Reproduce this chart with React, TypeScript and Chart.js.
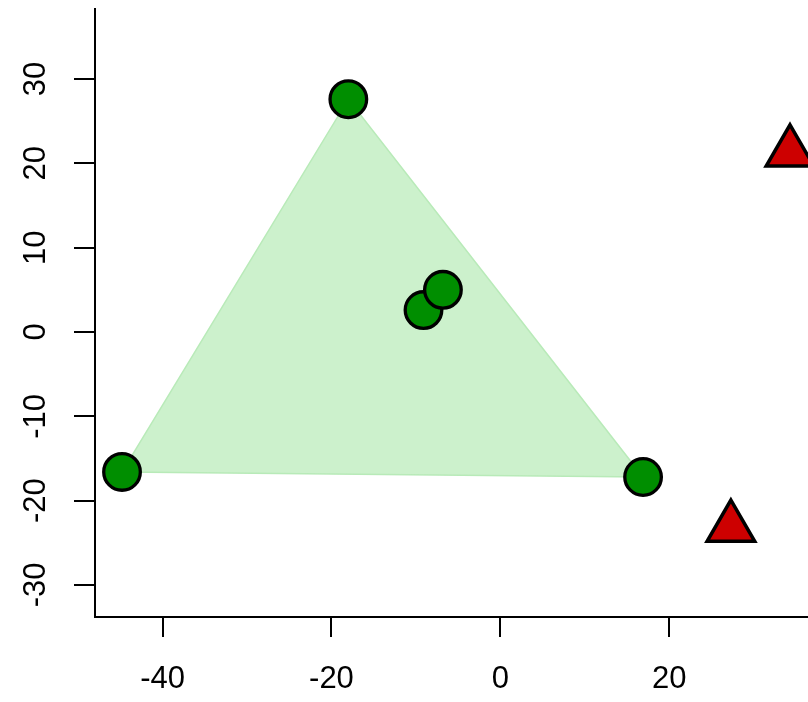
import { useEffect, useRef } from 'react';
import { Chart, registerables } from 'chart.js';

Chart.register(...registerables);

// Group A (green circles)
const greenX = [-44.8, -18.0, -9.1, -6.8, 16.9];
const greenY = [-16.6, 27.6, 2.6, 5.0, -17.2];
// Group B (red triangles)
const redX = [27.3, 34.3];
const redY = [-23.2, 21.3];
// Convex hull of group A (indices into greenX/greenY, closed)
const hullIdx = [0, 1, 4, 0];

const xTicks = [-40, -20, 0, 20];
const yTicks = [-30, -20, -10, 0, 10, 20, 30];
const xMin = -48.0;
const xMax = 36.43;
const yMin = -33.8;
const yMax = 38.3;

const FONT = "'Liberation Sans', Arial, Helvetica, sans-serif";

export default function App() {
  const ref = useRef<HTMLCanvasElement>(null);
  useEffect(() => {
    const canvas = ref.current!;
    const chart = new Chart(canvas, {
      type: 'scatter',
      data: {
        datasets: [
          {
            label: 'B',
            data: redX.map((x, i) => ({ x, y: redY[i] })),
            pointStyle: 'triangle',
            pointRadius: 27.5,
            pointBackgroundColor: 'rgb(205,0,0)',
            pointBorderColor: '#000',
            pointBorderWidth: 3.5,
            showLine: false,
          },
          {
            label: 'A',
            data: greenX.map((x, i) => ({ x, y: greenY[i] })),
            pointStyle: 'circle',
            pointRadius: 18.3,
            pointBackgroundColor: 'rgb(0,142,0)',
            pointBorderColor: '#000',
            pointBorderWidth: 3.3,
            showLine: false,
          },
          {
            label: 'hull',
            data: hullIdx.map((i) => ({ x: greenX[i], y: greenY[i] })),
            showLine: true,
            fill: 'shape',
            backgroundColor: 'rgb(204,241,204)',
            borderColor: 'rgb(184,234,184)',
            borderWidth: 1.5,
            pointRadius: 0,
            tension: 0,
          } as any,
        ],
      },
      options: {
        responsive: false,
        animation: false,
        devicePixelRatio: 1,
        layout: { autoPadding: false, padding: { top: 9, left: 0, right: 0, bottom: 0 } },
        plugins: { legend: { display: false }, tooltip: { enabled: false } },
        scales: {
          x: {
            type: 'linear',
            min: xMin,
            max: xMax,
            afterBuildTicks: (s: any) => {
              s.ticks = xTicks.map((v) => ({ value: v }));
            },
            afterFit: (s: any) => {
              s.height = 85;
              s.paddingLeft = 0;
              s.paddingRight = 0;
              s.paddingTop = 0;
              s.paddingBottom = 0;
            },
            grid: { drawOnChartArea: false, drawTicks: true, tickLength: 20, color: '#000', lineWidth: 2 },
            border: { display: true, color: '#000', width: 2 },
            ticks: {
              font: { family: FONT, size: 31 },
              color: '#000',
              padding: 24,
              minRotation: 0,
              maxRotation: 0,
            },
          },
          y: {
            type: 'linear',
            min: yMin,
            max: yMax,
            afterBuildTicks: (s: any) => {
              s.ticks = yTicks.map((v) => ({ value: v }));
            },
            afterFit: (s: any) => {
              s.width = 95;
              s.paddingLeft = 0;
              s.paddingRight = 0;
              s.paddingTop = 0;
              s.paddingBottom = 0;
            },
            grid: { drawOnChartArea: false, drawTicks: true, tickLength: 21, color: '#000', lineWidth: 2 },
            border: { display: true, color: '#000', width: 2 },
            ticks: {
              font: { family: FONT, size: 31 },
              color: '#000',
              padding: 15,
              minRotation: 90,
              maxRotation: 90,
              crossAlign: 'center',
            },
          },
        },
      },
    });
    return () => chart.destroy();
  }, []);
  return (
    <div style={{ position: 'absolute', left: 0, top: 0, width: 808, height: 702, background: '#fff' }}>
      <canvas ref={ref} width={808} height={702} style={{ display: 'block' }} />
    </div>
  );
}
